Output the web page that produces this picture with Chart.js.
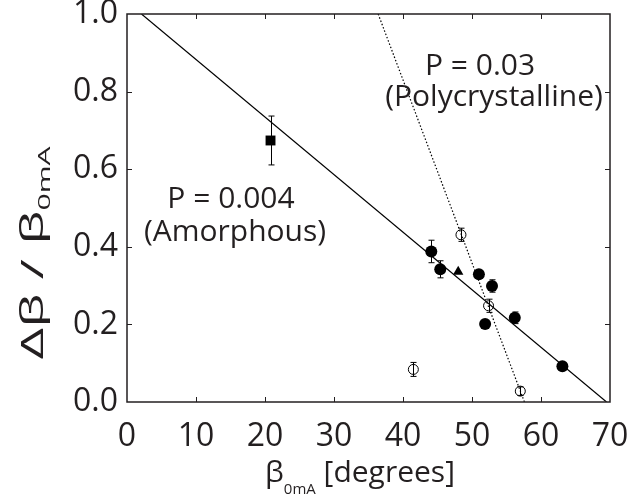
<!DOCTYPE html>
<html>
<head>
<meta charset="utf-8">
<script src="https://cdn.jsdelivr.net/npm/chart.js@4"></script>
<style>
  html, body { margin: 0; padding: 0; background: #fff; }
</style>
</head>
<body>
<canvas id="chart" width="630" height="499"></canvas>
<script>
// values
const filledX = [44.1, 45.4, 51.0, 52.9, 51.9, 56.2, 63.1];
const filledY = [0.388, 0.342, 0.329, 0.299, 0.201, 0.217, 0.092];
const filledErr = [0.029, 0.022, 0, 0.016, 0, 0.015, 0];

const openX = [48.4, 52.4, 41.5, 57.0];
const openY = [0.431, 0.248, 0.084, 0.028];
const openErr = [0.017, 0.017, 0.018, 0.011];

const triX = [48.0];
const triY = [0.336];

const squareX = [20.8];
const squareY = [0.674];
const squareErr = [0.063];

// fitted lines (end points)
const amorphousFitX = [2.1, 69.5];
const amorphousFitY = [1.0, 0.0];
const polyFitX = [36.4, 57.6];
const polyFitY = [1.0, 0.0];

const xTicks = [0, 10, 20, 30, 40, 50, 60, 70];
const yTicks = [0.0, 0.2, 0.4, 0.6, 0.8, 1.0];

const ink = '#231f20';
const font = '"Open Sans", sans-serif';

function pts(xs, ys) {
    return xs.map((x, i) => ({ x: x, y: ys[i] }));
}

const errorBars = {
    id: 'errorBars',
    beforeDatasetsDraw(chart) {
        const ctx = chart.ctx;
        const xs = chart.scales.x, ys = chart.scales.y;
        const sets = [[filledX, filledY, filledErr], [openX, openY, openErr], [squareX, squareY, squareErr]];
        ctx.save();
        ctx.strokeStyle = '#000';
        ctx.lineWidth = 1;
        sets.forEach(([ax, ay, ae]) => {
            ax.forEach((x, i) => {
                if (!ae[i]) return;
                const px = Math.round(xs.getPixelForValue(x)) + 0.5;
                const top = ys.getPixelForValue(ay[i] + ae[i]);
                const bot = ys.getPixelForValue(ay[i] - ae[i]);
                ctx.beginPath();
                ctx.moveTo(px, top); ctx.lineTo(px, bot);
                ctx.moveTo(px - 3, top); ctx.lineTo(px + 3, top);
                ctx.moveTo(px - 3, bot); ctx.lineTo(px + 3, bot);
                ctx.stroke();
            });
        });
        ctx.restore();
    }
};

const frame = {
    id: 'frame',
    afterDraw(chart) {
        const ctx = chart.ctx;
        const a = chart.chartArea;
        const xs = chart.scales.x, ys = chart.scales.y;
        ctx.save();
        ctx.strokeStyle = ink;
        ctx.lineWidth = 1;
        ctx.beginPath();
        xTicks.slice(1, -1).forEach(v => {
            const p = Math.round(xs.getPixelForValue(v)) + 0.5;
            ctx.moveTo(p, a.bottom); ctx.lineTo(p, a.bottom - 5);
            ctx.moveTo(p, a.top); ctx.lineTo(p, a.top + 5);
        });
        yTicks.slice(1, -1).forEach(v => {
            const p = Math.round(ys.getPixelForValue(v)) + 0.5;
            ctx.moveTo(a.left, p); ctx.lineTo(a.left + 5, p);
            ctx.moveTo(a.right, p); ctx.lineTo(a.right - 5, p);
        });
        ctx.stroke();
        ctx.lineWidth = 1.5;
        ctx.strokeRect(a.left, a.top, a.right - a.left, a.bottom - a.top);

        // annotations
        ctx.fillStyle = ink;
        ctx.textAlign = 'center';
        ctx.textBaseline = 'alphabetic';
        ctx.font = '30px ' + font;
        ctx.fillText('P = 0.03', 480, 75);
        ctx.fillText('(Polycrystalline)', 494, 106);
        ctx.fillText('P = 0.004', 231, 208);
        ctx.fillText('(Amorphous)', 235, 241);

        // x title with subscript
        ctx.textAlign = 'left';
        const big = '30px ' + font, small = '15px ' + font;
        ctx.font = big;
        const wB = ctx.measureText('\u03B2').width;
        const wR = ctx.measureText(' [degrees]').width;
        ctx.font = small;
        const wS = ctx.measureText('0mA').width;
        let x0 = 360 - (wB + wS + wR) / 2;
        ctx.font = big; ctx.fillText('\u03B2', x0, 482);
        ctx.font = small; ctx.fillText('0mA', x0 + wB, 494);
        ctx.font = big; ctx.fillText(' [degrees]', x0 + wB + wS, 482);

        // y title, rotated
        ctx.save();
        ctx.translate(43, 253);
        ctx.rotate(-Math.PI / 2);
        const yBig = '31px ' + font, ySmall = '17px ' + font;
        ctx.font = yBig;
        const t1 = '\u0394\u03B2 / \u03B2';
        const w1 = ctx.measureText(t1).width;
        ctx.font = ySmall;
        const w2 = ctx.measureText('0mA').width;
        const stretch = 213 / (w1 + w2);
        ctx.scale(stretch, 1);
        const start = -(w1 + w2) / 2;
        ctx.font = yBig; ctx.fillText(t1, start, 0);
        ctx.font = ySmall; ctx.fillText('0mA', start + w1, 7);
        ctx.restore();
        ctx.restore();
    }
};

new Chart(document.getElementById('chart'), {
    type: 'scatter',
    data: {
        datasets: [
            { data: pts(squareX, squareY), pointStyle: 'rect', radius: 7, backgroundColor: '#000', borderColor: '#000', borderWidth: 0 },
            { data: pts(triX, triY), pointStyle: 'triangle', radius: 6, backgroundColor: '#000', borderColor: '#000', borderWidth: 0 },
            { data: pts(filledX, filledY), pointStyle: 'circle', radius: 6, backgroundColor: '#000', borderColor: '#000', borderWidth: 0 },
            { data: pts(openX, openY), pointStyle: 'circle', radius: 5, backgroundColor: 'rgba(0,0,0,0)', borderColor: '#000', borderWidth: 1 },
            { data: pts(amorphousFitX, amorphousFitY), showLine: true, radius: 0, borderColor: '#000', borderWidth: 1.2 },
            { data: pts(polyFitX, polyFitY), showLine: true, radius: 0, borderColor: '#000', borderWidth: 1.2, borderDash: [1.5, 2] }
        ]
    },
    options: {
        responsive: false,
        animation: false,
        devicePixelRatio: 1,
        layout: { padding: { top: 14, right: 20, left: 0, bottom: 0 } },
        plugins: { legend: { display: false }, tooltip: { enabled: false } },
        scales: {
            x: {
                type: 'linear', min: 0, max: 70,
                grid: { display: false, drawTicks: false }, border: { display: false },
                afterBuildTicks: s => { s.ticks = xTicks.map(v => ({ value: v })); },
                ticks: { color: ink, font: { family: font, size: 32 }, padding: 16, maxRotation: 0 },
                afterFit: s => { s.height = 97; s.paddingLeft = 0; s.paddingRight = 0; }
            },
            y: {
                type: 'linear', min: 0, max: 1,
                grid: { display: false, drawTicks: false }, border: { display: false },
                afterBuildTicks: s => { s.ticks = yTicks.map(v => ({ value: v })); },
                ticks: { color: ink, font: { family: font, size: 32 }, padding: 9, callback: v => v.toFixed(1) },
                afterFit: s => { s.width = 127; s.paddingTop = 0; s.paddingBottom = 0; }
            }
        }
    },
    plugins: [errorBars, frame]
});
</script>
</body>
</html>
